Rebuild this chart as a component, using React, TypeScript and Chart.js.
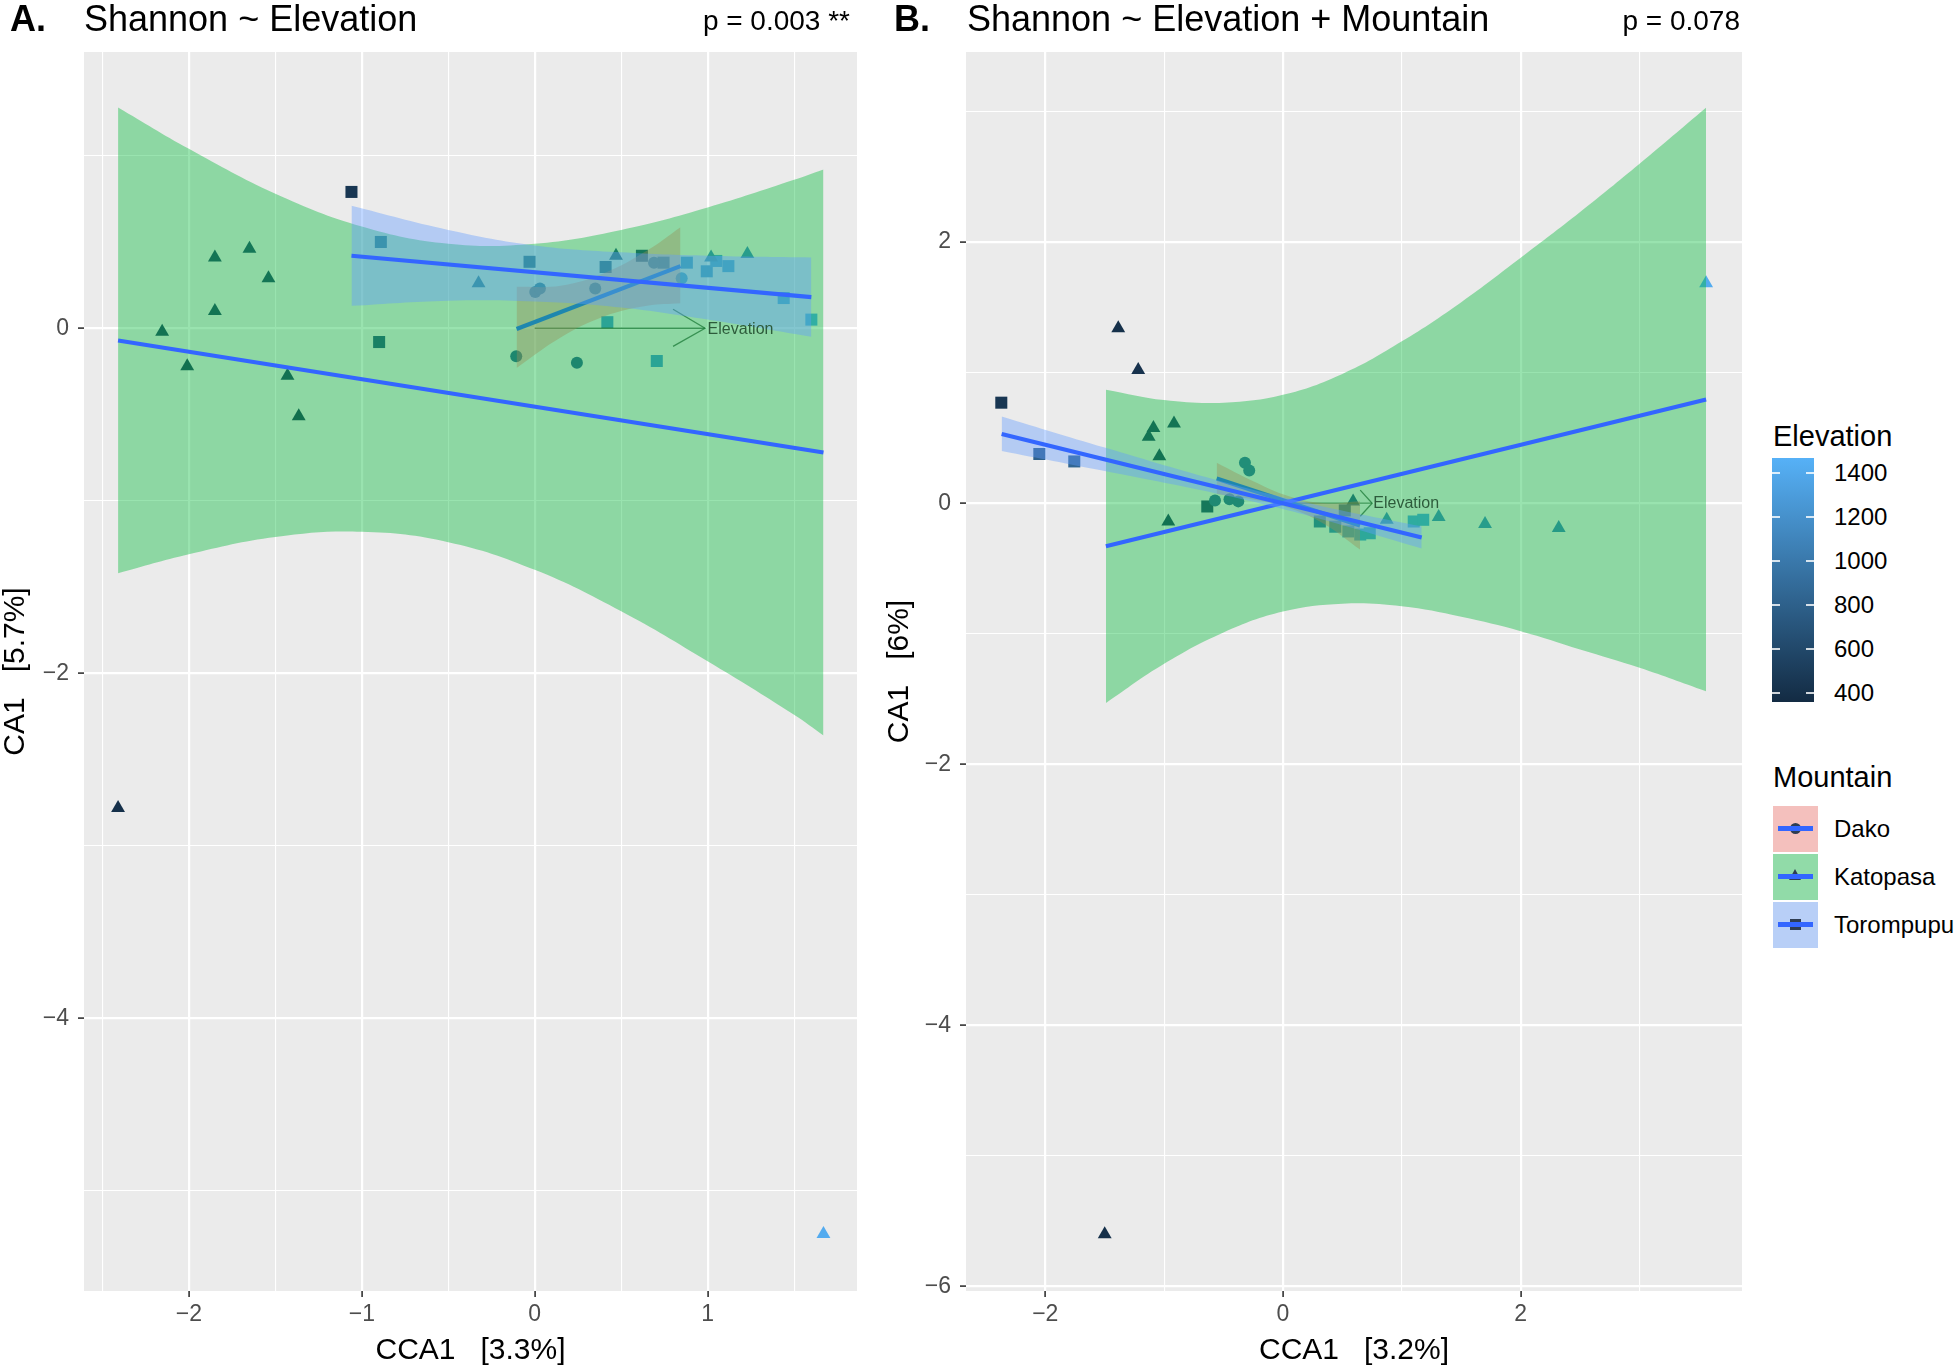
import React, { useEffect, useRef } from "react";
import { Chart, registerables } from "chart.js";
Chart.register(...registerables);

const FONT = '"Liberation Sans", Arial, Helvetica, sans-serif';

// ---------- Panel A : Shannon ~ Elevation ----------
const aKatX = [-2.155, -2.01, -1.85, -1.85, -1.65, -1.54, -1.43, -1.365, -0.325, 0.47, 1.02, 1.23, -2.41, 1.67];
const aKatY = [-0.02, -0.22, 0.41, 0.10, 0.46, 0.29, -0.275, -0.51, 0.26, 0.42, 0.41, 0.43, -2.78, -5.25];
const aKatElev = [560, 540, 600, 580, 620, 600, 560, 520, 1000, 750, 1150, 1150, 400, 1420];

const aTorX = [-1.06, -0.89, -0.90, -0.03, 0.41, 0.62, 0.745, 0.88, 0.995, 1.05, 1.12, 1.44, 1.60, 0.42, 0.706];
const aTorY = [0.79, 0.50, -0.08, 0.385, 0.355, 0.42, 0.38, 0.38, 0.33, 0.39, 0.36, 0.175, 0.05, 0.035, -0.19];
const aTorElev = [450, 950, 750, 850, 800, 650, 950, 1250, 1250, 1300, 1300, 1350, 1400, 1250, 1250];

const aDakX = [0.003, 0.03, 0.35, 0.69, 0.85, -0.107, 0.244];
const aDakY = [0.21, 0.23, 0.23, 0.38, 0.29, -0.163, -0.20];
const aDakElev = [950, 950, 950, 950, 1300, 850, 850];

const aDakLineX = [-0.105, 0.843];
const aDakLineY = [-0.004, 0.36];
const aKatLineX = [-2.41, 1.67];
const aKatLineY = [-0.071, -0.72];
const aTorLineX = [-1.06, 1.6];
const aTorLineY = [0.42, 0.18];

const aKatBandX = [-2.41, -2, -1.5, -1, -0.5, 0, 0.5, 1, 1.5, 1.67];
const aKatBandLo = [-1.42, -1.31, -1.21, -1.18, -1.24, -1.40, -1.64, -1.93, -2.24, -2.36];
const aKatBandHi = [1.28, 1.04, 0.78, 0.59, 0.49, 0.49, 0.57, 0.70, 0.86, 0.92];

const aTorBandX = [-1.06, -0.5, 0, 0.5, 1, 1.6];
const aTorBandLo = [0.13, 0.16, 0.155, 0.12, 0.05, -0.05];
const aTorBandHi = [0.71, 0.57, 0.48, 0.44, 0.42, 0.41];

const aDakBandX = [-0.105, 0.15, 0.4, 0.65, 0.843];
const aDakBandLo = [-0.23, -0.054, 0.068, 0.13, 0.145];
const aDakBandHi = [0.24, 0.246, 0.318, 0.45, 0.585];

const aArrowX = [0, 0.985];
const aArrowY = [0, 0];
const aHeadX = [0.8, 0.985, 0.8];
const aHeadY = [0.11, 0, -0.105];

// ---------- Panel B : Shannon ~ Elevation + Mountain ----------
const bKatX = [-1.386, -1.218, -1.09, -1.13, -0.917, -1.04, -0.965, 0.59, 0.873, 1.31, 1.70, 2.32, 3.56, -1.50];
const bKatY = [1.34, 1.02, 0.576, 0.51, 0.61, 0.36, -0.14, 0.014, -0.127, -0.106, -0.16, -0.19, 1.685, -5.60];
const bKatElev = [400, 420, 580, 580, 600, 560, 560, 800, 1150, 1150, 1150, 1100, 1420, 400];

const bTorX = [-2.37, -2.05, -1.756, -0.637, 0.52, 0.31, 0.44, 0.55, 0.65, 0.73, 1.10, 1.18];
const bTorY = [0.77, 0.377, 0.32, -0.025, -0.055, -0.14, -0.18, -0.216, -0.24, -0.23, -0.14, -0.127];
const bTorElev = [450, 800, 850, 650, 850, 1000, 1100, 1250, 1300, 1300, 1350, 1350];

const bDakX = [-0.32, -0.284, -0.572, -0.45, -0.376];
const bDakY = [0.31, 0.25, 0.02, 0.03, 0.014];
const bDakElev = [950, 950, 900, 900, 900];

const bDakLineX = [-0.558, 0.648];
const bDakLineY = [0.19, -0.17];
const bKatLineX = [-1.49, 3.56];
const bKatLineY = [-0.33, 0.795];
const bTorLineX = [-2.367, 1.167];
const bTorLineY = [0.53, -0.262];

const bKatBandX = [-1.49, -1, -0.5, 0, 0.5, 1, 1.5, 2, 2.5, 3, 3.56];
const bKatBandLo = [-1.53, -1.23, -0.99, -0.83, -0.77, -0.79, -0.87, -0.98, -1.12, -1.26, -1.44];
const bKatBandHi = [0.87, 0.79, 0.77, 0.83, 0.99, 1.24, 1.54, 1.88, 2.23, 2.60, 3.03];

const bTorBandX = [-2.367, -1.5, -0.5, 0.3, 1.167];
const bTorBandLo = [0.40, 0.246, 0.062, -0.117, -0.347];
const bTorBandHi = [0.665, 0.426, 0.162, -0.017, -0.177];

const bDakBandX = [-0.558, -0.25, 0.05, 0.35, 0.648];
const bDakBandLo = [0.07, 0.028, -0.037, -0.161, -0.355];
const bDakBandHi = [0.31, 0.168, 0.053, 0.0, 0.015];

const bArrowX = [0, 0.75];
const bArrowY = [0, 0];
const bHeadX = [0.65, 0.75, 0.65];
const bHeadY = [0.1, 0, -0.1];

// ---------- ticks ----------
const aXTicks = [-2.5, -2, -1.5, -1, -0.5, 0, 0.5, 1, 1.5];
const aXMajor = [-2, -1, 0, 1];
const aYTicks = [-5, -4, -3, -2, -1, 0, 1];
const aYMajor = [-4, -2, 0];
const bXTicks = [-2, -1, 0, 1, 2, 3];
const bXMajor = [-2, 0, 2];
const bYTicks = [-6, -5, -4, -3, -2, -1, 0, 1, 2, 3];
const bYMajor = [-6, -4, -2, 0, 2];

const elevTicks = [400, 600, 800, 1000, 1200, 1400];
const ELEV_MIN = 359;
const ELEV_MAX = 1468;
const LOW = [19, 43, 67];
const HIGH = [86, 177, 247];

const mountains = ["Dako", "Katopasa", "Torompupu"];
const mountainFill = ["rgba(248,118,109,0.4)", "rgba(0,186,56,0.4)", "rgba(97,156,255,0.4)"];
const mountainKeyBg = ["rgb(244,192,189)", "rgb(145,219,168)", "rgb(184,207,247)"];
const LINE_BLUE = "#3366FF";

function elevColor(e: number) {
  const t = Math.max(0, Math.min(1, (e - ELEV_MIN) / (ELEV_MAX - ELEV_MIN)));
  const c = LOW.map((l, i) => Math.round(l + (HIGH[i] - l) * t));
  return `rgb(${c[0]},${c[1]},${c[2]})`;
}

const xy = (xs: number[], ys: number[]) => xs.map((x, i) => ({ x, y: ys[i] }));
const fmt = (v: number) => (v < 0 ? "\u2212" + Math.abs(v) : String(v));

function axis(min: number, max: number, ticks: number[], major: number[], title: string, isY: boolean, fit: number, titlePad: any) {
  const isMaj = (c: any) => c && c.tick && major.includes(c.tick.value);
  return {
    type: "linear",
    min,
    max,
    afterBuildTicks: (s: any) => {
      s.ticks = ticks.map((v) => ({ value: v }));
    },
    afterFit: (s: any) => {
      if (isY) s.width = fit;
      else s.height = fit;
    },
    border: { display: false },
    grid: {
      color: "#FFFFFF",
      lineWidth: (c: any) => (isMaj(c) ? 2.2 : 1.1),
      tickColor: (c: any) => (isMaj(c) ? "#333333" : "rgba(0,0,0,0)"),
      tickLength: 6,
      tickWidth: 1.6,
    },
    ticks: {
      autoSkip: false,
      maxRotation: 0,
      minRotation: 0,
      color: "#4D4D4D",
      font: { family: FONT, size: 23 },
      padding: isY ? 9 : 4,
      callback: (v: any) => (major.includes(Number(v)) ? fmt(Number(v)) : ""),
    },
    title: {
      display: true,
      text: title,
      color: "#000000",
      font: { family: FONT, size: 30, lineHeight: 1 },
      padding: titlePad,
    },
  };
}

function pointsDS(xs: number[], ys: number[], elev: number[], style: string, r: number) {
  const cols = elev.map(elevColor);
  return {
    type: "scatter",
    data: xy(xs, ys),
    pointStyle: style,
    pointRadius: r,
    pointBackgroundColor: cols,
    pointBorderColor: cols,
    pointBorderWidth: 0,
    showLine: false,
    order: 20,
  };
}

function bandDS(xs: number[], lo: number[], hi: number[], color: string, order: number) {
  return [
    {
      type: "line",
      data: xy(xs, hi),
      borderWidth: 0,
      borderColor: "rgba(0,0,0,0)",
      pointRadius: 0,
      backgroundColor: color,
      fill: "+1",
      tension: 0.4,
      order,
    },
    {
      type: "line",
      data: xy(xs, lo),
      borderWidth: 0,
      borderColor: "rgba(0,0,0,0)",
      pointRadius: 0,
      fill: false,
      tension: 0.4,
      order,
    },
  ];
}

function lineDS(xs: number[], ys: number[], order: number, color = LINE_BLUE, w = 4.2) {
  return {
    type: "line",
    data: xy(xs, ys),
    borderColor: color,
    borderWidth: w,
    pointRadius: 0,
    fill: false,
    tension: 0,
    order,
  };
}

const bgPlugin = {
  id: "panelBg",
  beforeDraw(chart: any) {
    const { ctx, chartArea: a } = chart;
    ctx.save();
    ctx.fillStyle = "#EBEBEB";
    ctx.fillRect(a.left, a.top, a.right - a.left, a.bottom - a.top);
    ctx.restore();
  },
};

function labelPlugin(x: number, y: number, text: string) {
  return {
    id: "arrowLabel",
    afterDatasetsDraw(chart: any) {
      const { ctx } = chart;
      const px = chart.scales.x.getPixelForValue(x);
      const py = chart.scales.y.getPixelForValue(y);
      ctx.save();
      ctx.font = `16px ${FONT}`;
      ctx.fillStyle = "#2d5b3b";
      ctx.textAlign = "left";
      ctx.textBaseline = "middle";
      ctx.fillText(text, px, py);
      ctx.restore();
    },
  };
}

function makeConfig(p: any) {
  const datasets: any[] = [
    pointsDS(p.dak[0], p.dak[1], p.dak[2], "circle", 6),
    pointsDS(p.kat[0], p.kat[1], p.kat[2], "triangle", 8),
    pointsDS(p.tor[0], p.tor[1], p.tor[2], "rect", 8.5),
    lineDS(p.arrow[0], p.arrow[1], 19, "rgba(45,80,55,0.75)", 1.3),
    lineDS(p.head[0], p.head[1], 19, "rgba(45,80,55,0.75)", 1.3),
    ...bandDS(p.dakBand[0], p.dakBand[1], p.dakBand[2], mountainFill[0], 18),
    lineDS(p.dakLine[0], p.dakLine[1], 17),
    ...bandDS(p.katBand[0], p.katBand[1], p.katBand[2], mountainFill[1], 16),
    lineDS(p.katLine[0], p.katLine[1], 15),
    ...bandDS(p.torBand[0], p.torBand[1], p.torBand[2], mountainFill[2], 14),
    lineDS(p.torLine[0], p.torLine[1], 13),
  ];
  return {
    type: "scatter",
    data: { datasets },
    options: {
      responsive: false,
      animation: false,
      devicePixelRatio: 1,
      events: [],
      layout: { padding: { left: 0, right: p.padRight, top: 52, bottom: 0 } },
      plugins: { legend: { display: false }, tooltip: { enabled: false }, title: { display: false } },
      scales: {
        x: axis(p.xr[0], p.xr[1], p.xTicks, p.xMajor, p.xTitle, false, 81, { top: 0, bottom: 6 }),
        y: axis(p.yr[0], p.yr[1], p.yTicks, p.yMajor, p.yTitle, true, p.yAxisW, { top: p.yTitlePad, bottom: 0 }),
      },
    },
    plugins: [bgPlugin, labelPlugin(p.label[0], p.label[1], "Elevation")],
  };
}

const panelA = {
  xr: [-2.607, 1.864],
  yr: [-5.58, 1.601],
  xTicks: aXTicks,
  xMajor: aXMajor,
  yTicks: aYTicks,
  yMajor: aYMajor,
  xTitle: "CCA1   [3.3%]",
  yTitle: "CA1   [5.7%]",
  yAxisW: 84,
  padRight: 23,
  yTitlePad: 1,
  dak: [aDakX, aDakY, aDakElev],
  kat: [aKatX, aKatY, aKatElev],
  tor: [aTorX, aTorY, aTorElev],
  dakLine: [aDakLineX, aDakLineY],
  katLine: [aKatLineX, aKatLineY],
  torLine: [aTorLineX, aTorLineY],
  dakBand: [aDakBandX, aDakBandLo, aDakBandHi],
  katBand: [aKatBandX, aKatBandLo, aKatBandHi],
  torBand: [aTorBandX, aTorBandLo, aTorBandHi],
  arrow: [aArrowX, aArrowY],
  head: [aHeadX, aHeadY],
  label: [1.0, -0.01],
};

const panelB = {
  xr: [-2.667, 3.862],
  yr: [-6.034, 3.456],
  xTicks: bXTicks,
  xMajor: bXMajor,
  yTicks: bYTicks,
  yMajor: bYMajor,
  xTitle: "CCA1   [3.2%]",
  yTitle: "CA1   [6%]",
  yAxisW: 86,
  padRight: 18,
  yTitlePad: 5,
  dak: [bDakX, bDakY, bDakElev],
  kat: [bKatX, bKatY, bKatElev],
  tor: [bTorX, bTorY, bTorElev],
  dakLine: [bDakLineX, bDakLineY],
  katLine: [bKatLineX, bKatLineY],
  torLine: [bTorLineX, bTorLineY],
  dakBand: [bDakBandX, bDakBandLo, bDakBandHi],
  katBand: [bKatBandX, bKatBandLo, bKatBandHi],
  torBand: [bTorBandX, bTorBandLo, bTorBandHi],
  arrow: [bArrowX, bArrowY],
  head: [bHeadX, bHeadY],
  label: [0.76, 0.0],
};

const abs = (left: number, top: number, extra: any = {}) => ({ position: "absolute" as const, left, top, whiteSpace: "nowrap" as const, ...extra });

function KeyGlyph({ idx }: { idx: number }) {
  const dark = "#2f3d52";
  let shape: any = null;
  if (idx === 0) shape = <div style={abs(17, 17, { width: 11, height: 11, borderRadius: "50%", background: dark })} />;
  if (idx === 1) shape = <div style={abs(16, 15, { width: 0, height: 0, borderLeft: "6.5px solid transparent", borderRight: "6.5px solid transparent", borderBottom: "11px solid " + dark })} />;
  if (idx === 2) shape = <div style={abs(17, 17, { width: 11, height: 11, background: dark })} />;
  return (
    <div style={abs(1773, 806 + idx * 48, { width: 45, height: 46, background: mountainKeyBg[idx] })}>
      {shape}
      <div style={abs(5, 20, { width: 35, height: 5, background: LINE_BLUE })} />
    </div>
  );
}

export default function App() {
  const refA = useRef<HTMLCanvasElement>(null);
  const refB = useRef<HTMLCanvasElement>(null);

  useEffect(() => {
    const ca = new Chart(refA.current as any, makeConfig(panelA) as any);
    const cb = new Chart(refB.current as any, makeConfig(panelB) as any);
    return () => {
      ca.destroy();
      cb.destroy();
    };
  }, []);

  const grad = `linear-gradient(to top, rgb(${LOW.join(",")}), rgb(${HIGH.join(",")}))`;
  const elevY = (v: number) => 702 - ((v - ELEV_MIN) / (ELEV_MAX - ELEV_MIN)) * 244;

  return (
    <div style={{ position: "absolute", left: 0, top: 0, width: 1959, height: 1372, background: "#FFFFFF", fontFamily: FONT, color: "#000", overflow: "hidden" }}>
      <canvas ref={refA} width={880} height={1372} style={{ position: "absolute", left: 0, top: 0, width: 880, height: 1372 }} />
      <canvas ref={refB} width={880} height={1372} style={{ position: "absolute", left: 880, top: 0, width: 880, height: 1372 }} />

      {/* titles */}
      <div style={abs(10, 1, { fontSize: 36, lineHeight: "36px", fontWeight: 700 })}>A.</div>
      <div style={abs(84, 1, { fontSize: 36, lineHeight: "36px" })}>Shannon ~ Elevation</div>
      <div style={{ position: "absolute", right: 1959 - 850, top: 7, fontSize: 28, lineHeight: "28px", whiteSpace: "nowrap" }}>p = 0.003 **</div>

      <div style={abs(894, 1, { fontSize: 36, lineHeight: "36px", fontWeight: 700 })}>B.</div>
      <div style={abs(967, 1, { fontSize: 36, lineHeight: "36px" })}>Shannon ~ Elevation + Mountain</div>
      <div style={{ position: "absolute", right: 1959 - 1740, top: 7, fontSize: 28, lineHeight: "28px", whiteSpace: "nowrap" }}>p = 0.078</div>

      {/* Elevation colour bar */}
      <div style={abs(1773, 422, { fontSize: 29, lineHeight: "29px" })}>Elevation</div>
      <div style={abs(1772, 458, { width: 42, height: 244, background: grad })}>
        {elevTicks.map((v) => (
          <React.Fragment key={v}>
            <div style={abs(0, elevY(v) - 458 - 1, { width: 8, height: 2, background: "rgba(255,255,255,0.8)" })} />
            <div style={abs(34, elevY(v) - 458 - 1, { width: 8, height: 2, background: "rgba(255,255,255,0.8)" })} />
          </React.Fragment>
        ))}
      </div>
      {elevTicks.map((v) => (
        <div key={"l" + v} style={abs(1834, elevY(v) - 12, { fontSize: 24, lineHeight: "24px" })}>
          {v}
        </div>
      ))}

      {/* Mountain legend */}
      <div style={abs(1773, 763, { fontSize: 29, lineHeight: "29px" })}>Mountain</div>
      {mountains.map((m, i) => (
        <React.Fragment key={m}>
          <KeyGlyph idx={i} />
          <div style={abs(1834, 829 + i * 48 - 12, { fontSize: 24, lineHeight: "24px" })}>{m}</div>
        </React.Fragment>
      ))}
    </div>
  );
}
